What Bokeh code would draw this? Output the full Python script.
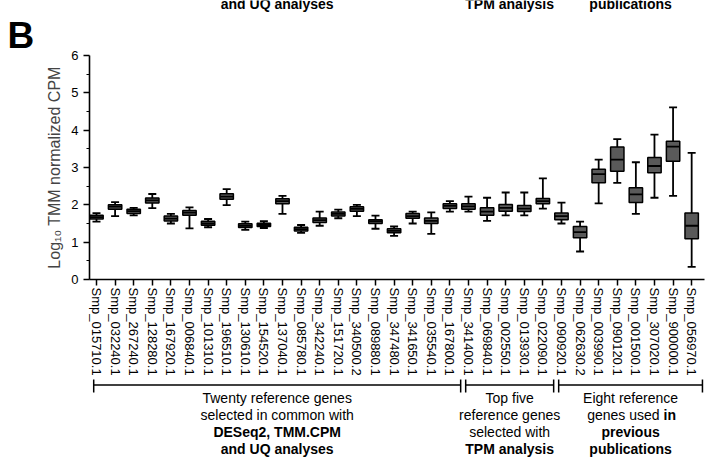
from bokeh.plotting import figure
from bokeh.models import Range1d, FixedTicker, Title
from bokeh.layouts import column
from bokeh.embed import file_html
from bokeh.resources import INLINE
from bokeh.core.properties import value

FONT = "Liberation Sans"

# Reference genes, in plotting order
genes = [
    "Smp_015710.1", "Smp_032240.1", "Smp_267240.1", "Smp_128280.1", "Smp_167920.1",
    "Smp_006840.1", "Smp_101310.1", "Smp_196510.1", "Smp_130610.1", "Smp_154520.1",
    "Smp_137040.1", "Smp_085780.1", "Smp_342240.1", "Smp_151720.1", "Smp_340500.2",
    "Smp_089880.1", "Smp_347480.1", "Smp_341650.1", "Smp_035540.1", "Smp_167800.1",
    "Smp_341400.1", "Smp_069840.1", "Smp_002550.1", "Smp_013930.1", "Smp_022090.1",
    "Smp_090920.1", "Smp_062630.2", "Smp_003990.1", "Smp_090120.1", "Smp_001500.1",
    "Smp_307020.1", "Smp_900000.1", "Smp_056970.1",
]

# Box-plot summaries of log10 TMM-normalized CPM per gene
q_min = [1.55, 1.70, 1.72, 1.91, 1.50, 1.37, 1.40, 1.99, 1.33, 1.38, 1.76, 1.25, 1.44, 1.64, 1.70,
         1.36, 1.17, 1.50, 1.22, 1.82, 1.82, 1.57, 1.72, 1.72, 1.90, 1.50, 0.75, 2.04, 2.59, 1.76,
         2.19, 2.24, 0.34]
q1 = [1.62, 1.88, 1.77, 2.05, 1.57, 1.72, 1.45, 2.15, 1.39, 1.42, 2.03, 1.30, 1.53, 1.70, 1.83,
      1.50, 1.25, 1.64, 1.50, 1.90, 1.88, 1.72, 1.83, 1.82, 2.03, 1.60, 1.12, 2.59, 2.90, 2.06,
      2.86, 3.17, 1.09]
median = [1.67, 1.95, 1.83, 2.12, 1.63, 1.79, 1.50, 2.22, 1.44, 1.46, 2.10, 1.35, 1.59, 1.76, 1.89,
          1.56, 1.30, 1.70, 1.57, 1.97, 1.96, 1.82, 1.92, 1.90, 2.10, 1.70, 1.27, 2.82, 3.21, 2.28,
          3.04, 3.56, 1.44]
q3 = [1.72, 2.00, 1.88, 2.18, 1.70, 1.85, 1.56, 2.30, 1.49, 1.51, 2.16, 1.40, 1.65, 1.81, 1.95,
      1.60, 1.36, 1.77, 1.65, 2.03, 2.03, 1.92, 2.01, 1.98, 2.17, 1.78, 1.42, 2.95, 3.55, 2.46,
      3.27, 3.70, 1.78]
q_max = [1.78, 2.07, 1.92, 2.29, 1.76, 1.93, 1.62, 2.42, 1.55, 1.56, 2.24, 1.46, 1.82, 1.87, 2.00,
         1.71, 1.42, 1.82, 1.80, 2.10, 2.22, 2.19, 2.33, 2.33, 2.71, 2.06, 1.55, 3.21, 3.76, 3.14,
         3.88, 4.61, 3.39]

y_ticks = [0, 1, 2, 3, 4, 5, 6]
y_minor = [0.5, 1.5, 2.5, 3.5, 4.5, 5.5]

# Gene groups: (first index, last index, caption lines as (text, bold, x offset px, align))
groups = [
    (0, 19, [
        [("Twenty reference genes", False, 0, "center")],
        [("selected in common with", False, 0, "center")],
        [("DESeq2, TMM.CPM", True, 0, "center")],
        [("and UQ analyses", True, 0, "center")],
    ]),
    (20, 24, [
        [("Top five", False, 0, "center")],
        [("reference genes", False, 0, "center")],
        [("selected with", False, 0, "center")],
        [("TPM analysis", True, 0, "center")],
    ]),
    (25, 32, [
        [("Eight reference", False, 0, "center")],
        [("genes used", False, 29, "right"), ("in", True, 33, "left")],
        [("previous", True, 0, "center")],
        [("publications", True, 0, "center")],
    ]),
]

# Last caption lines of the panel above, cut by the page edge (one per group)
top_captions = ["and UQ analyses", "TPM analysis", "publications"]

LEFT = 89        # frame left edge, px
STRIP_H = 12     # header strip height, px
TOP = 55         # frame top edge on the page, px
FRAME_H = 226    # frame height, px
BOTTOM_H = 79    # bracket strip height, px

xs = list(range(len(genes)))
x_range = Range1d(-0.376, 32.69)

# bracket extents per group, in category units
spans = [(first - 0.15, last + 0.58) for first, last, _ in groups]
centers = [(a + b) / 2 for a, b in spans]

# ---- header strip: captions of the panel above, clipped by the page edge ----
strip = figure(width=705, height=STRIP_H, x_range=x_range,
               y_range=Range1d(STRIP_H, 0), x_axis_location=None, y_axis_location=None,
               min_border_left=LEFT, min_border_right=1, min_border_top=0, min_border_bottom=0,
               output_backend="svg", toolbar_location=None)
strip.grid.visible = False
strip.outline_line_color = None
strip.text(x=centers, y=[3] * len(top_captions), text=top_captions,
           text_font=value(FONT), text_font_size="14px", text_font_style="bold",
           text_align="center", text_baseline="alphabetic", text_color="black")

# ---- main box-plot panel ----
main_h = 457 - STRIP_H - BOTTOM_H
p = figure(width=705, height=main_h, x_range=x_range, y_range=Range1d(0, 6),
           min_border_left=LEFT, min_border_right=1, min_border_top=TOP - STRIP_H,
           min_border_bottom=main_h - (TOP - STRIP_H) - FRAME_H,
           output_backend="svg", toolbar_location=None)
p.grid.visible = False
p.outline_line_color = None

# panel letter
p.add_layout(Title(text="B", align="left", offset=7 - LEFT, standoff=0,
                   text_font=FONT, text_font_size="37px", text_font_style="bold",
                   text_color="black"), "above")

p.segment(x0=xs, y0=q_min, x1=xs, y1=q_max, line_color="black", line_width=1.8)
p.scatter(xs, q_min, marker="dash", size=8, line_color="black", line_width=1.8)
p.scatter(xs, q_max, marker="dash", size=8, line_color="black", line_width=1.8)
p.vbar(x=xs, width=0.72, bottom=q1, top=q3, fill_color="#5a5a5a",
       line_color="black", line_width=1.5)
p.scatter(xs, median, marker="dash", size=13, line_color="black", line_width=1.8)

p.yaxis.ticker = FixedTicker(ticks=y_ticks, minor_ticks=y_minor)
p.yaxis.axis_label = "Log\u2081\u2080 TMM normalized CPM"
p.yaxis.axis_label_text_font = FONT
p.yaxis.axis_label_text_font_size = "16px"
p.yaxis.axis_label_text_font_style = "normal"
p.yaxis.axis_label_standoff = 5
p.yaxis.major_label_text_font_size = "13px"

p.xaxis.ticker = FixedTicker(ticks=xs)
p.xaxis.major_label_overrides = {i: g for i, g in enumerate(genes)}
p.xaxis.major_label_orientation = "vertical"
p.xaxis.major_label_text_font_size = "13px"
p.xaxis.major_label_standoff = 2
p.xaxis.minor_tick_line_color = None

for ax in (p.xaxis, p.yaxis):
    ax.axis_line_width = 1.6
    ax.axis_line_color = "black"
    ax.major_tick_line_width = 1.5
    ax.major_tick_line_color = "black"
    ax.major_tick_in = 0
    ax.major_tick_out = 6
    ax.major_label_text_font = FONT
    ax.major_label_text_color = "black"
p.yaxis.minor_tick_in = 0
p.yaxis.minor_tick_out = 3
p.yaxis.minor_tick_line_width = 1.2
p.yaxis.minor_tick_line_color = "black"

# ---- group brackets and captions ----
bot = figure(width=705, height=BOTTOM_H, x_range=x_range, y_range=Range1d(BOTTOM_H, 0),
             x_axis_location=None, y_axis_location=None,
             min_border_left=LEFT, min_border_right=1, min_border_top=0, min_border_bottom=0,
             output_backend="svg", toolbar_location=None)
bot.grid.visible = False
bot.outline_line_color = None

line_y = [19, 36, 53, 70]
for (left, right), center, (_, _, lines) in zip(spans, centers, groups):
    bot.segment(x0=[left, left, right], y0=[6.5, 1, 1], x1=[right, left, right],
                y1=[6.5, 14, 14], line_color="black", line_width=1.5)
    for ly, segs in zip(line_y, lines):
        for txt, bold, dx, align in segs:
            bot.text(x=[center], y=[ly], text=[txt], x_offset=dx, text_font=value(FONT),
                     text_font_size="14px", text_font_style="bold" if bold else "normal",
                     text_align=align, text_baseline="middle", text_color="black")

layout = column(strip, p, bot, spacing=0)
open("out.html", "w").write(file_html(layout, INLINE))
